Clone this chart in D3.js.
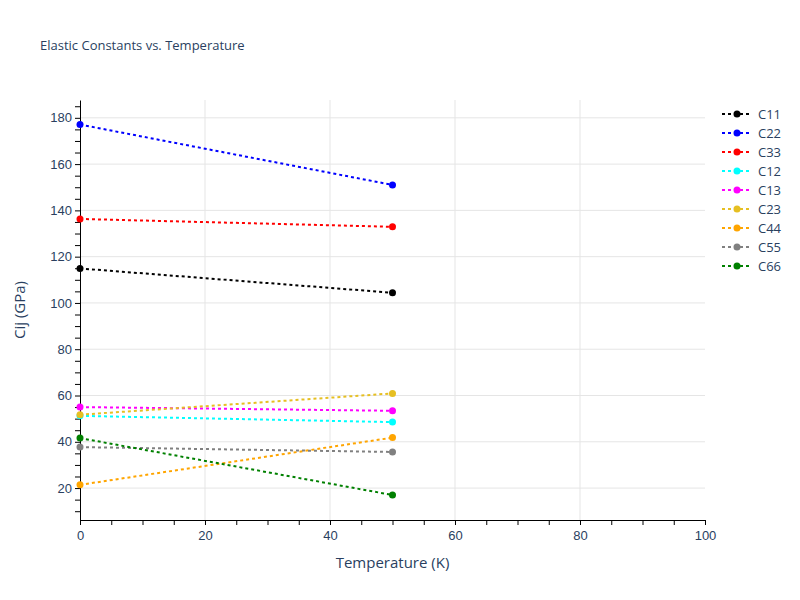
<!DOCTYPE html>
<head>
    <meta charset="utf-8">
    <title>Elastic Constants vs. Temperature</title>
    <style>
        body { margin: 0; background: #fff; }
        svg { font-family: "Open Sans", "DejaVu Sans", sans-serif; }
        .axis text { fill: #2a3f5f; font-size: 13px; }
        .axis path, .axis line { stroke: #000; }
        .grid line { stroke: #e5e5e5; }
    </style>
</head>

<body>

<svg width="800" height="600"></svg>

<script src="https://cdn.jsdelivr.net/npm/d3@7"></script>

<script>

    // temperatures (K)
    var temps = [0, 50];

    var names = ["C11", "C22", "C33", "C12", "C13", "C23", "C44", "C55", "C66"];
    var colors = ["black", "blue", "red", "cyan", "magenta", "#e6bf22", "orange", "gray", "green"];

    // elastic constants (GPa) at each temperature
    var c11 = [114.9, 104.4];
    var c22 = [177.1, 151.0];
    var c33 = [136.3, 132.9];
    var c12 = [51.2, 48.5];
    var c13 = [55.0, 53.4];
    var c23 = [51.7, 60.9];
    var c44 = [21.4, 41.8];
    var c55 = [37.7, 35.6];
    var c66 = [41.6, 17.0];

    var values = [c11, c22, c33, c12, c13, c23, c44, c55, c66];

    var svg = d3.select("svg"),
        margin = {top: 100, right: 95, bottom: 80, left: 80},
        width = 800 - margin.left - margin.right,
        height = 600 - margin.top - margin.bottom;

    var x = d3.scaleLinear().domain([0, 100]).range([0, width]),
        y = d3.scaleLinear().domain([6.2, 187.7]).range([height, 0]);

    var g = svg.append("g")
        .attr("transform", "translate(" + margin.left + "," + margin.top + ")");

    // gridlines
    g.append("g").attr("class", "grid")
        .selectAll("line").data(x.ticks(5).filter(function(d) { return d > 0 && d < 100; }))
        .enter().append("line")
        .attr("x1", x).attr("x2", x)
        .attr("y1", 0).attr("y2", height);

    g.append("g").attr("class", "grid")
        .selectAll("line").data(d3.range(20, 181, 20))
        .enter().append("line")
        .attr("x1", 0).attr("x2", width)
        .attr("y1", y).attr("y2", y);

    // axes: labelled ticks every 20, small ticks every 5
    g.append("g")
        .attr("class", "axis")
        .attr("transform", "translate(0," + height + ")")
        .call(d3.axisBottom(x).tickValues(d3.range(0, 101, 5)).tickSize(5).tickSizeOuter(0)
            .tickFormat(function(d) { return d % 20 === 0 ? d : ""; }))
        .call(function(a) { a.selectAll("text").attr("dy", "0.9em"); });

    g.append("g")
        .attr("class", "axis")
        .call(d3.axisLeft(y).tickValues(d3.range(10, 186, 5)).tickSize(5).tickSizeOuter(0)
            .tickFormat(function(d) { return d % 20 === 0 ? d : ""; }))
        .call(function(a) { a.selectAll("text").attr("x", -8); });

    // lines and markers
    var line = d3.line()
        .x(function(d, i) { return x(temps[i]); })
        .y(function(d) { return y(d); });

    var series = g.selectAll(".series")
        .data(values)
        .enter().append("g")
        .attr("class", "series");

    series.append("path")
        .attr("d", line)
        .attr("fill", "none")
        .attr("stroke", function(d, i) { return colors[i]; })
        .attr("stroke-width", 2)
        .attr("stroke-dasharray", "3,3");

    series.selectAll("circle")
        .data(function(d, i) { return d.map(function(v, j) { return {v: v, t: temps[j], c: colors[i]}; }); })
        .enter().append("circle")
        .attr("cx", function(d) { return x(d.t); })
        .attr("cy", function(d) { return y(d.v); })
        .attr("r", 3.5)
        .attr("fill", function(d) { return d.c; });

    // legend
    var legend = svg.append("g")
        .attr("transform", "translate(722,114)");

    var item = legend.selectAll("g")
        .data(names)
        .enter().append("g")
        .attr("transform", function(d, i) { return "translate(0," + i * 19 + ")"; });

    item.append("line")
        .attr("x1", 0).attr("x2", 30)
        .attr("stroke", function(d, i) { return colors[i]; })
        .attr("stroke-width", 2)
        .attr("stroke-dasharray", "3,3");

    item.append("circle")
        .attr("cx", 15).attr("r", 3.5)
        .attr("fill", function(d, i) { return colors[i]; });

    item.append("text")
        .attr("x", 36).attr("dy", "0.35em")
        .style("font-size", "13px")
        .style("fill", "#2a3f5f")
        .text(function(d) { return d; });

    // titles
    svg.append("text")
        .attr("x", 40).attr("y", 50)
        .style("font-size", "13px")
        .style("fill", "#2a3f5f")
        .text("Elastic Constants vs. Temperature");

    svg.append("text")
        .attr("x", margin.left + width / 2).attr("y", 568)
        .attr("text-anchor", "middle")
        .style("font-size", "15px")
        .style("fill", "#2a3f5f")
        .text("Temperature (K)");

    svg.append("text")
        .attr("transform", "translate(25," + (margin.top + height / 2) + ") rotate(-90)")
        .attr("text-anchor", "middle")
        .style("font-size", "15px")
        .style("fill", "#2a3f5f")
        .text("Cij (GPa)");

</script>

</body>
